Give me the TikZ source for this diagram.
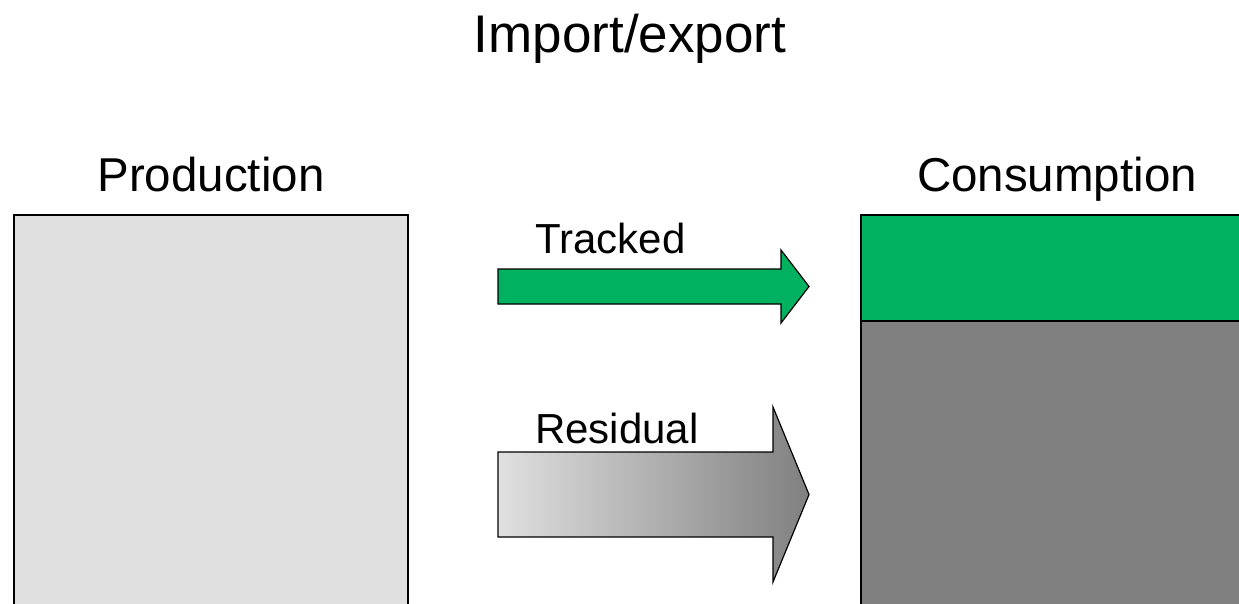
\documentclass[tikz,border=0pt]{standalone}
\usepackage{fontspec}
\setmainfont{Liberation Sans}
\definecolor{tgreen}{RGB}{0,178,96}
\definecolor{lgray}{RGB}{224,224,224}
\definecolor{dgray}{RGB}{128,128,128}
\tikzset{
  lbl/.style={inner sep=0pt, anchor=base},
  boxline/.style={draw=black, line width=1.3pt},
}
\begin{document}
\begin{tikzpicture}[x=1pt,y=-1pt]
\useasboundingbox (0,0) rectangle (1239,604);
\clip (0,0) rectangle (1239,604);
% title
\node[lbl, font=\fontsize{53}{60}\selectfont] (title) at (630,53) {Import/export};
% production
\node[lbl, font=\fontsize{47.5}{54}\selectfont] (prodlbl) at (211,192) {Production};
\path[boxline, fill=lgray] (14,215) rectangle (408,620);
\coordinate (prod) at (211,400);
% consumption
\node[lbl, font=\fontsize{47.5}{54}\selectfont] (conslbl) at (1057,192) {Consumption};
\path[boxline, fill=dgray] (861,321) rectangle (1250,620);
\path[boxline, fill=tgreen] (861,215) rectangle (1250,321);
% tracked arrow
\node[lbl, anchor=base west, font=\fontsize{42}{48}\selectfont] (tracked) at (535,253) {Tracked};
\draw[line width=1.2pt, fill=tgreen, line join=miter]
  (498,269) -- (781,269) -- (781,250) -- (809,286.5) -- (781,323) -- (781,304) -- (498,304) -- cycle;
% residual arrow
\node[lbl, anchor=base west, font=\fontsize{42}{48}\selectfont] (residual) at (535,443) {Residual};
\draw[line width=1.2pt, left color=lgray, right color=dgray, line join=miter]
  (498,452) -- (773,452) -- (773,407) -- (809,494.5) -- (773,582) -- (773,537) -- (498,537) -- cycle;
\end{tikzpicture}
\end{document}
